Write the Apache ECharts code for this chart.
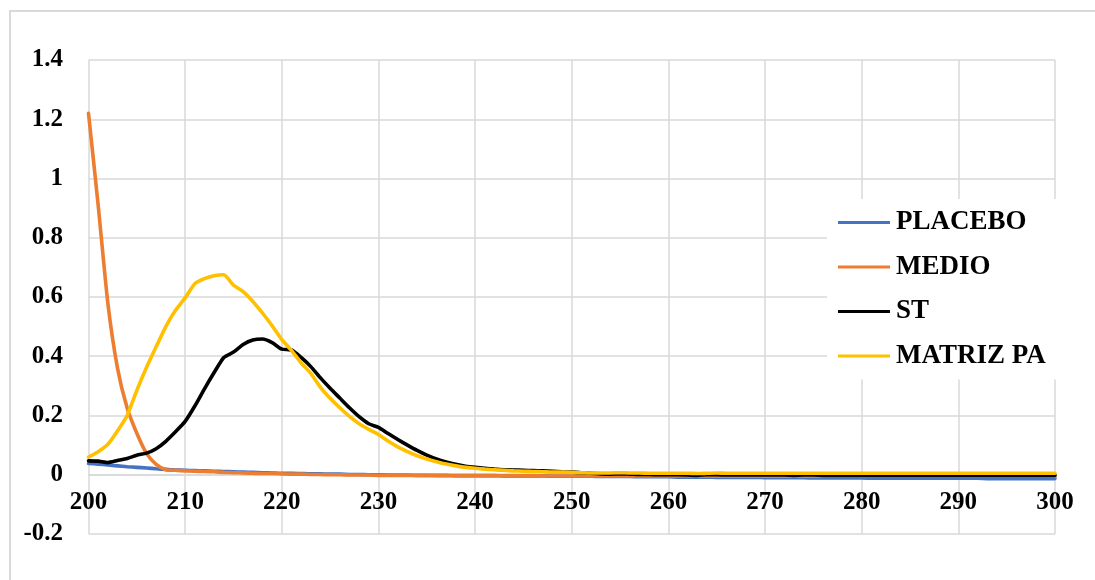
<!DOCTYPE html>
<html>
<head>
<meta charset="utf-8">
<script src="https://cdn.jsdelivr.net/npm/echarts@6/dist/echarts.min.js"></script>
<style>
  html, body { margin: 0; padding: 0; background: #ffffff; }
  #chart { width: 1095px; height: 580px; }
</style>
</head>
<body>
<div id="chart"></div>
<script>
// Wavelength (nm)
const wavelengths = [
  200,201,202,203,204,205,206,207,208,209,
  210,211,212,213,214,215,216,217,218,219,
  220,221,222,223,224,225,226,227,228,229,
  230,231,232,233,234,235,236,237,238,239,
  240,241,242,243,244,245,246,247,248,249,
  250,251,252,253,254,255,256,257,258,259,
  260,261,262,263,264,265,266,267,268,269,
  270,271,272,273,274,275,276,277,278,279,
  280,281,282,283,284,285,286,287,288,289,
  290,291,292,293,294,295,296,297,298,299,
  300
];

const placebo = [
  0.038,0.036,0.033,0.030,0.027,0.025,0.023,0.020,0.018,0.016,
  0.015,0.014,0.013,0.012,0.011,0.010,0.009,0.008,0.007,0.006,
  0.005,0.005,0.004,0.003,0.003,0.002,0.002,0.001,0.001,0.000,
  0.000,-0.001,-0.001,-0.001,-0.002,-0.002,-0.002,-0.002,-0.003,-0.003,
  -0.003,-0.003,-0.003,-0.004,-0.004,-0.004,-0.004,-0.004,-0.005,-0.005,
  -0.005,-0.005,-0.005,-0.006,-0.006,-0.006,-0.006,-0.007,-0.007,-0.007,
  -0.007,-0.008,-0.008,-0.008,-0.008,-0.009,-0.009,-0.009,-0.009,-0.009,
  -0.010,-0.010,-0.010,-0.010,-0.010,-0.011,-0.011,-0.011,-0.011,-0.011,
  -0.011,-0.012,-0.012,-0.012,-0.012,-0.012,-0.012,-0.012,-0.012,-0.012,
  -0.012,-0.012,-0.012,-0.013,-0.013,-0.013,-0.013,-0.013,-0.013,-0.013,
  -0.013
];

const medio = [
  1.220,0.910,0.580,0.360,0.225,0.140,0.072,0.035,0.017,0.015,
  0.013,0.012,0.011,0.010,0.008,0.007,0.006,0.005,0.004,0.004,
  0.003,0.002,0.002,0.001,0.001,0.000,0.000,-0.001,-0.001,-0.001,
  -0.002,-0.002,-0.002,-0.002,-0.002,-0.002,-0.003,-0.003,-0.003,-0.003,
  -0.003,-0.003,-0.003,-0.003,-0.003,-0.003,-0.003,-0.004,-0.004,-0.004,
  -0.004,-0.004,-0.004,-0.004,-0.004,-0.004,-0.004,-0.004,-0.004,-0.004,
  -0.004,-0.004,-0.004,-0.005,-0.005,-0.005,-0.005,-0.005,-0.005,-0.005,
  -0.005,-0.005,-0.005,-0.005,-0.005,-0.005,-0.005,-0.005,-0.005,-0.005,
  -0.005,-0.005,-0.005,-0.005,-0.005,-0.005,-0.005,-0.005,-0.005,-0.005,
  -0.005,-0.005,-0.005,-0.005,-0.005,-0.005,-0.005,-0.005,-0.005,-0.005,
  -0.005
];

const st = [
  0.047,0.046,0.041,0.048,0.055,0.066,0.073,0.088,0.113,0.145,
  0.180,0.232,0.290,0.345,0.396,0.414,0.440,0.455,0.458,0.446,
  0.424,0.421,0.396,0.365,0.327,0.292,0.259,0.226,0.196,0.172,
  0.160,0.139,0.119,0.100,0.082,0.066,0.053,0.043,0.035,0.029,
  0.025,0.022,0.019,0.017,0.016,0.015,0.014,0.013,0.012,0.010,
  0.009,0.007,0.005,0.003,0.002,0.003,0.002,0.001,0.001,0.000,
  0.000,0.000,-0.001,-0.002,0.000,0.000,-0.001,-0.001,-0.001,-0.001,
  -0.001,-0.001,-0.001,-0.002,-0.001,-0.001,-0.002,-0.002,-0.002,-0.002,
  -0.002,-0.002,-0.002,-0.002,-0.002,-0.002,-0.002,-0.002,-0.002,-0.002,
  -0.002,-0.002,-0.002,-0.002,-0.002,-0.002,-0.002,-0.002,-0.002,-0.002,
  -0.002
];

const matrizPA = [
  0.060,0.078,0.103,0.148,0.200,0.285,0.362,0.432,0.500,0.555,
  0.597,0.645,0.662,0.672,0.675,0.640,0.618,0.585,0.546,0.503,
  0.456,0.420,0.378,0.342,0.295,0.258,0.226,0.197,0.172,0.153,
  0.136,0.114,0.094,0.078,0.064,0.053,0.044,0.036,0.030,0.025,
  0.022,0.019,0.017,0.015,0.013,0.012,0.011,0.010,0.009,0.009,
  0.008,0.007,0.006,0.006,0.006,0.007,0.006,0.006,0.005,0.005,
  0.005,0.005,0.005,0.004,0.005,0.006,0.005,0.005,0.005,0.005,
  0.005,0.005,0.005,0.005,0.005,0.005,0.005,0.005,0.005,0.005,
  0.005,0.005,0.005,0.005,0.005,0.005,0.005,0.005,0.005,0.005,
  0.005,0.005,0.005,0.005,0.005,0.005,0.005,0.005,0.005,0.005,
  0.005
];

const seriesNames = ['PLACEBO', 'MEDIO', 'ST', 'MATRIZ PA'];
const seriesColors = ['#4472C4', '#ED7D31', '#000000', '#FFC000'];
const seriesValues = [placebo, medio, st, matrizPA];

const yTickValues = [-0.2, 0, 0.2, 0.4, 0.6, 0.8, 1, 1.2, 1.4];
const yTickLabels = ['-0.2', '0', '0.2', '0.4', '0.6', '0.8', '1', '1.2', '1.4'];
const xTickLabels = ['200','210','220','230','240','250','260','270','280','290','300'];

const FONT = '"Liberation Serif", "Times New Roman", serif';
const GRID = '#d9d9d9';

const chart = echarts.init(document.getElementById('chart'), null, { renderer: 'canvas' });

const gridTop = 60, gridBottom = 46;
const plotH = 580 - gridTop - gridBottom;
const yMin = -0.2, yMax = 1.4;
// move the x axis (line + labels) up to the y = 0 level
const zeroOffset = -plotH * (0 - yMin) / (yMax - yMin);

const option = {
  backgroundColor: '#ffffff',
  animation: false,
  graphic: [{
    type: 'rect',
    shape: { x: 10, y: 11, width: 1300, height: 800 },
    style: { fill: 'none', stroke: GRID, lineWidth: 2 },
    z: -10,
    silent: true
  }],
  grid: { left: 88.5, right: 40, top: gridTop, bottom: gridBottom, containLabel: false },
  legend: {
    orient: 'vertical',
    left: 827,
    top: 199,
    padding: [10, 12, 10, 11],
    backgroundColor: '#ffffff',
    icon: 'rect',
    itemWidth: 52,
    itemHeight: 3,
    itemGap: 17.5,
    textStyle: { fontFamily: FONT, fontWeight: 'bold', fontSize: 27, lineHeight: 26, color: '#000000', padding: [0, 0, 0, 1] },
    data: seriesNames
  },
  xAxis: {
    type: 'value',
    min: 200, max: 300, interval: 10,
    offset: zeroOffset,
    axisLine: { show: true, onZero: false, lineStyle: { color: GRID, width: 1.5 } },
    axisTick: { show: false },
    splitLine: { show: true, lineStyle: { color: GRID, width: 1.5 } },
    axisLabel: {
      margin: 15,
      fontFamily: FONT, fontWeight: 'bold', fontSize: 25, color: '#000000',
      formatter: function (v) {
        const i = Math.round((v - 200) / 10);
        return xTickLabels[i] !== undefined ? xTickLabels[i] : '';
      }
    }
  },
  yAxis: {
    type: 'value',
    min: yMin, max: yMax, interval: 0.2,
    axisLine: { show: false },
    axisTick: { show: false },
    splitLine: { show: true, lineStyle: { color: GRID, width: 1.5 } },
    axisLabel: {
      margin: 25.5,
      fontFamily: FONT, fontWeight: 'bold', fontSize: 25, color: '#000000',
      formatter: function (v) {
        for (let i = 0; i < yTickValues.length; i++) {
          if (Math.abs(yTickValues[i] - v) < 1e-6) return yTickLabels[i];
        }
        return '';
      }
    }
  },
  series: seriesNames.map(function (name, k) {
    return {
      name: name,
      type: 'line',
      data: wavelengths.map(function (w, i) { return [w, seriesValues[k][i]]; }),
      symbol: 'none',
      smooth: 0.2,
      clip: false,
      z: 2 + k,
      color: seriesColors[k],
      itemStyle: { color: seriesColors[k] },
      lineStyle: { color: seriesColors[k], width: 3.6, cap: 'round', join: 'round' }
    };
  })
};

chart.setOption(option);
</script>
</body>
</html>
